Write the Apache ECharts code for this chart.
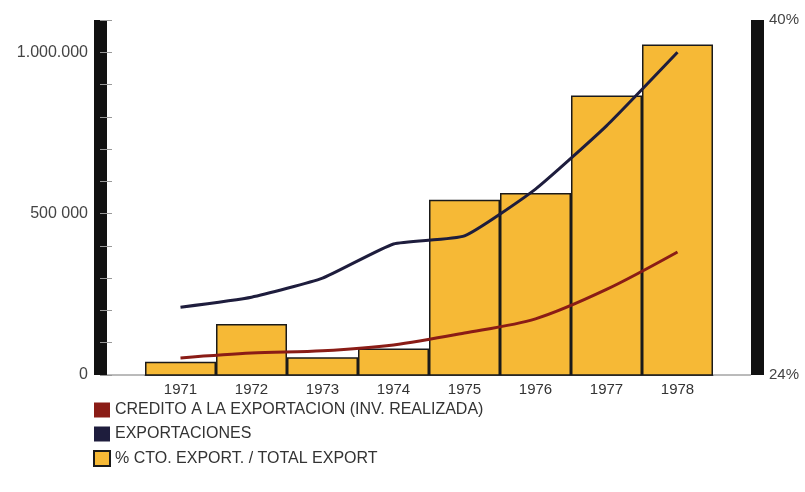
<!DOCTYPE html>
<html>
<head>
<meta charset="utf-8">
<script src="https://cdn.jsdelivr.net/npm/echarts@6/dist/echarts.min.js"></script>
<style>
  html, body { margin: 0; padding: 0; background: #fff; }
  #main { width: 805px; height: 492px; }
</style>
</head>
<body>
<div id="main"></div>
<script>
// años
var years = ["1971", "1972", "1973", "1974", "1975", "1976", "1977", "1978"];
// credito a la exportacion (inv. realizada)
var credito = [53000, 68000, 75000, 93000, 130000, 174000, 265000, 381000];
// exportaciones
var exportaciones = [210000, 241000, 300000, 406000, 431000, 576000, 772000, 1000000];
// % cto. export. / total export
var porcentaje = [24.6, 26.3, 24.8, 25.2, 31.9, 32.2, 36.6, 38.9];
// etiquetas del eje izquierdo
var leftLabels = { 0: "0", 500000: "500 000", 1000000: "1.000.000" };

var myChart = echarts.init(document.getElementById("main"));
var font = "Liberation Sans";

var option = {
  animation: false,
  backgroundColor: "#fff",
  textStyle: { fontFamily: font },
  grid: { left: 145, right: 92, top: 20, bottom: 117 },
  legend: {
    orient: "vertical",
    left: 88,
    top: 397,
    itemWidth: 16,
    itemHeight: 15,
    itemGap: 8,
    textStyle: { fontSize: 16, color: "#333", fontFamily: font },
    data: [
      { name: "CREDITO A LA EXPORTACION (INV. REALIZADA)", icon: "rect" },
      { name: "EXPORTACIONES", icon: "rect" },
      { name: "% CTO. EXPORT. / TOTAL EXPORT", icon: "rect" }
    ]
  },
  xAxis: {
    type: "category",
    data: years,
    axisLine: { show: true, lineStyle: { color: "#555", width: 1 } },
    axisTick: { show: false },
    axisLabel: { color: "#333", fontSize: 15, margin: 7 }
  },
  yAxis: [
    {
      type: "value",
      position: "left",
      offset: 45,
      min: 0,
      max: 1100000,
      interval: 100000,
      splitLine: { show: false },
      axisLine: { show: true, lineStyle: { color: "#111", width: 13, cap: "butt" } },
      axisTick: { show: true, inside: true, length: 12, lineStyle: { color: "#999", width: 1 } },
      axisLabel: {
        color: "#444",
        fontSize: 16,
        margin: 12,
        formatter: function (v) { return leftLabels[v] !== undefined ? leftLabels[v] : ""; }
      }
    },
    {
      type: "value",
      position: "right",
      offset: 44,
      min: 24,
      max: 40,
      interval: 16,
      splitLine: { show: false },
      axisLine: { show: true, lineStyle: { color: "#111", width: 13, cap: "butt" } },
      axisTick: { show: false },
      axisLabel: { color: "#444", fontSize: 15, margin: 12, formatter: "{value}%" }
    }
  ],
  series: [
    {
      name: "% CTO. EXPORT. / TOTAL EXPORT",
      type: "bar",
      yAxisIndex: 1,
      data: porcentaje,
      barCategoryGap: "0%",
      itemStyle: { color: "#f6b936", borderColor: "#1a1a1a", borderWidth: 1.5 },
      z: 1
    },
    {
      name: "CREDITO A LA EXPORTACION (INV. REALIZADA)",
      type: "line",
      yAxisIndex: 0,
      data: credito,
      smooth: 0.3,
      symbol: "none",
      lineStyle: { color: "#8a1c16", width: 3 },
      itemStyle: { color: "#8a1c16" },
      z: 3
    },
    {
      name: "EXPORTACIONES",
      type: "line",
      yAxisIndex: 0,
      data: exportaciones,
      smooth: 0.15,
      symbol: "none",
      lineStyle: { color: "#1e1d3d", width: 3 },
      itemStyle: { color: "#1e1d3d" },
      z: 3
    }
  ]
};

myChart.setOption(option);

// línea base entre los dos ejes
var y0 = myChart.convertToPixel({ yAxisIndex: 0 }, 0);
myChart.setOption({
  graphic: [{
    type: "line",
    shape: { x1: 107, y1: y0, x2: 751, y2: y0 },
    style: { stroke: "#777", lineWidth: 1 },
    z: 0
  }]
});
</script>
</body>
</html>
